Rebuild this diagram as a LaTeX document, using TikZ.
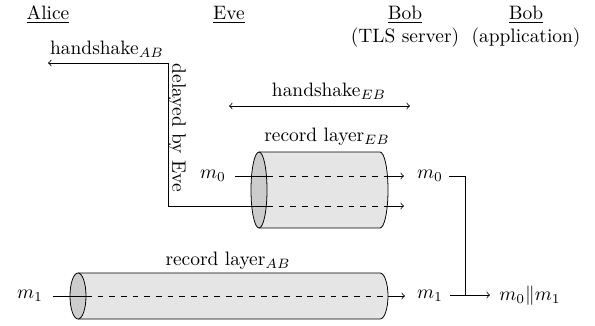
\documentclass[tikz,border=0pt]{standalone}
\begin{document}
\begin{tikzpicture}[x=0.515pt,y=-0.515pt,
  lbl/.style={inner sep=0pt},
  body/.style={draw,fill=gray!20},
  lid/.style={draw,fill=gray!40},
  >=to]
\useasboundingbox (0,0) rectangle (595,325);
% headers
\node[lbl] (alice) at (48,15) {\underline{Alice}};
\node[lbl] (eve) at (229,15) {\underline{Eve}};
\node[lbl,align=center] (bobtls) at (405,27) {\underline{Bob}\\(TLS server)};
\node[lbl,align=center] (bobapp) at (526,27) {\underline{Bob}\\(application)};
% handshake AB, delayed
\node[lbl] (hsab) at (107,49) {handshake$_{AB}$};
\coordinate (hA) at (48,63);
\coordinate (c1) at (168,63);
\coordinate (c2) at (168,206);
\node[lbl,rotate=-90] (delayed) at (177,128) {delayed by Eve};
% handshake EB
\node[lbl] (hseb) at (329,91) {handshake$_{EB}$};
\coordinate (hEl) at (229,106);
\coordinate (hEr) at (410,106);
\draw[<->] (hEl) -- (hEr);
% record layer EB cylinder
\node[lbl] (rleb) at (327,137) {record layer$_{EB}$};
\draw[body] (259,152) -- (380,152) arc[start angle=90,end angle=-90,x radius=4.12pt,y radius=19.57pt] -- (259,228);
\draw[lid] (259,190) ellipse [x radius=4.12pt,y radius=19.57pt];
% record layer AB cylinder
\node[lbl] (rlab) at (228,261) {record layer$_{AB}$};
\draw[body] (78,273) -- (380,273) arc[start angle=90,end angle=-90,x radius=4.12pt,y radius=11.85pt] -- (78,319);
\draw[lid] (78,296) ellipse [x radius=4.12pt,y radius=11.85pt];
% m0 through EB
\node[lbl] (m0in) at (213,176) {$m_0$};
\coordinate (m0s) at (235,176);
\coordinate (e1a) at (267,176);
\coordinate (e1b) at (388,176);
\coordinate (e1c) at (404,176);
\draw (m0s) -- (e1a);
\draw[dashed] (e1a) -- (e1b);
\draw[->] (e1b) -- (e1c);
\node[lbl] (m0out) at (430,176) {$m_0$};
% delayed handshake path
\coordinate (e2a) at (267,206);
\coordinate (e2b) at (388,206);
\coordinate (e2c) at (404,206);
\draw[->] (c1) -- (hA);
\draw (c1) -- (c2) -- (e2a);
\draw[dashed] (e2a) -- (e2b);
\draw[->] (e2b) -- (e2c);
% m1 through AB
\node[lbl] (m1in) at (30,296) {$m_1$};
\coordinate (m1s) at (53,296);
\coordinate (a1a) at (86,296);
\coordinate (a1b) at (388,296);
\coordinate (a1c) at (405,296);
\draw (m1s) -- (a1a);
\draw[dashed] (a1a) -- (a1b);
\draw[->] (a1b) -- (a1c);
\node[lbl] (m1out) at (430,296) {$m_1$};
% merge
\node[lbl] (m01) at (530,296) {$m_0\|m_1$};
\coordinate (m0e) at (449,176);
\coordinate (c3) at (465,176);
\coordinate (c4) at (465,295);
\coordinate (m1e) at (450,295);
\coordinate (m01t) at (490,295);
\draw (m0e) -- (c3) -- (c4);
\draw[->] (m1e) -- (m01t);
\end{tikzpicture}
\end{document}
